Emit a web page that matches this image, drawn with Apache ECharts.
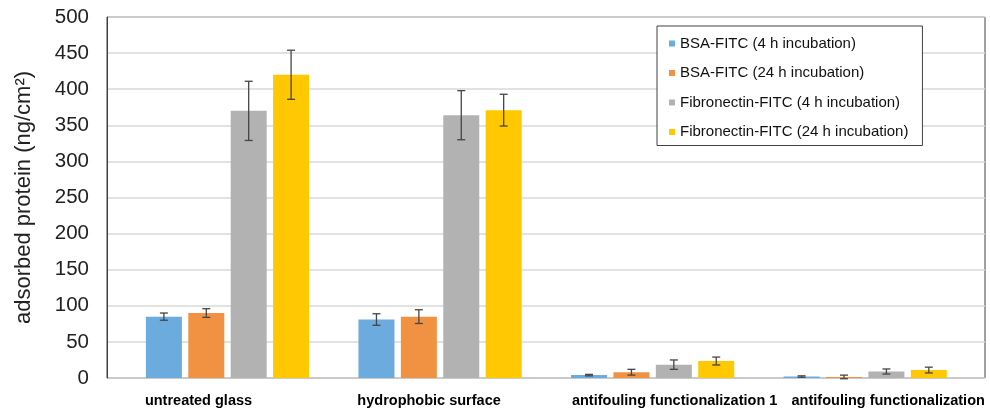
<!DOCTYPE html>
<html>
<head>
<meta charset="utf-8">
<script src="https://cdn.jsdelivr.net/npm/echarts@6/dist/echarts.min.js"></script>
<style>html,body{margin:0;padding:0;background:#fff;}#c{width:990px;height:410px;}</style>
</head>
<body>
<div id="c"></div>
<script>
var categories = ['untreated glass', 'hydrophobic surface', 'antifouling functionalization 1', 'antifouling functionalization'];
var seriesNames = ['BSA-FITC (4 h incubation)', 'BSA-FITC (24 h incubation)', 'Fibronectin-FITC (4 h incubation)', 'Fibronectin-FITC (24 h incubation)'];
var bsa4 = [85, 81, 4, 2];
var bsa24 = [90, 85, 8, 1.5];
var fn4 = [370, 364, 18.5, 9];
var fn24 = [420, 371, 23.5, 11];
var bsa4Err = [5, 8, 1, 1];
var bsa24Err = [6, 9.5, 4, 2.5];
var fn4Err = [41, 34, 6.5, 3.5];
var fn24Err = [34, 22, 5.5, 4];
var yTicks = [0, 50, 100, 150, 200, 250, 300, 350, 400, 450, 500];

var values = [bsa4, bsa24, fn4, fn24];
var errors = [bsa4Err, bsa24Err, fn4Err, fn24Err];
var colors = ['#6CABDD', '#F09242', '#B2B2B2', '#FFC800'];
var BAR_W = 36, BAR_GAP = 6.4;
var labelShift = [-29, -11, 22, 23];

var chart = echarts.init(document.getElementById('c'));
var series = [];
values.forEach(function (vals, i) {
  series.push({
    name: seriesNames[i], type: 'bar', xAxisIndex: 1, yAxisIndex: 1,
    data: vals, barWidth: BAR_W, barGap: (BAR_GAP / BAR_W * 100) + '%',
    itemStyle: { color: colors[i] }, z: 2
  });
});
values.forEach(function (vals, i) {
  var errs = errors[i];
  series.push({
    type: 'custom', xAxisIndex: 1, yAxisIndex: 1, z: 5, silent: true,
    data: vals.map(function (v, k) { return [k, v - errs[k], v + errs[k]]; }),
    renderItem: function (params, api) {
      var off = (i - 1.5) * (BAR_W + BAR_GAP);
      var lo = api.coord([api.value(0), api.value(1)]);
      var hi = api.coord([api.value(0), api.value(2)]);
      var x = lo[0] + off, cap = 4;
      var st = { stroke: '#454545', lineWidth: 1.3 };
      return { type: 'group', children: [
        { type: 'line', shape: { x1: x, y1: lo[1], x2: x, y2: hi[1] }, style: st },
        { type: 'line', shape: { x1: x - cap, y1: lo[1], x2: x + cap, y2: lo[1] }, style: st },
        { type: 'line', shape: { x1: x - cap, y1: hi[1], x2: x + cap, y2: hi[1] }, style: st }
      ]};
    }
  });
});

chart.setOption({
  animation: false,
  textStyle: { fontFamily: 'Liberation Sans, Arial, sans-serif' },
  grid: [
    { left: 107, right: 5, top: 17, bottom: 32, show: true, borderColor: '#404040', borderWidth: 1, backgroundColor: 'transparent' },
    { left: 121.2, right: 18.5, top: 17, bottom: 32 }
  ],
  xAxis: [
    { gridIndex: 0, type: 'value', min: 0, max: 1, show: false },
    { gridIndex: 1, type: 'category',
      data: categories.map(function (c, k) {
        var s = labelShift[k];
        return { value: c, textStyle: { padding: s >= 0 ? [0, 0, 0, 2 * s] : [0, -2 * s, 0, 0] } };
      }),
      axisLine: { show: false }, axisTick: { show: false },
      axisLabel: { interval: 0, color: '#000', fontWeight: 'bold', fontSize: 14.5, margin: 15 } }
  ],
  yAxis: [
    { gridIndex: 0, type: 'value', min: yTicks[0], max: yTicks[yTicks.length - 1], interval: 50,
      name: 'adsorbed protein (ng/cm²)', nameLocation: 'middle', nameGap: 72,
      nameTextStyle: { fontSize: 22, color: '#222' },
      axisLine: { show: true, lineStyle: { color: '#404040' } }, axisTick: { show: false },
      axisLabel: { fontSize: 20.5, color: '#222', margin: 18 },
      splitLine: { lineStyle: { color: '#D9D9D9', width: 1.5 } } },
    { gridIndex: 1, type: 'value', min: yTicks[0], max: yTicks[yTicks.length - 1], show: false }
  ],
  legend: {
    data: seriesNames, orient: 'vertical', left: 657, top: 26,
    icon: 'rect', itemWidth: 6, itemHeight: 6, itemGap: 14.5,
    padding: [10, 14, 6, 12], borderColor: '#404040', borderWidth: 1, backgroundColor: '#fff',
    textStyle: { fontSize: 15, color: '#111' }
  },
  series: series
});
</script>
</body>
</html>
